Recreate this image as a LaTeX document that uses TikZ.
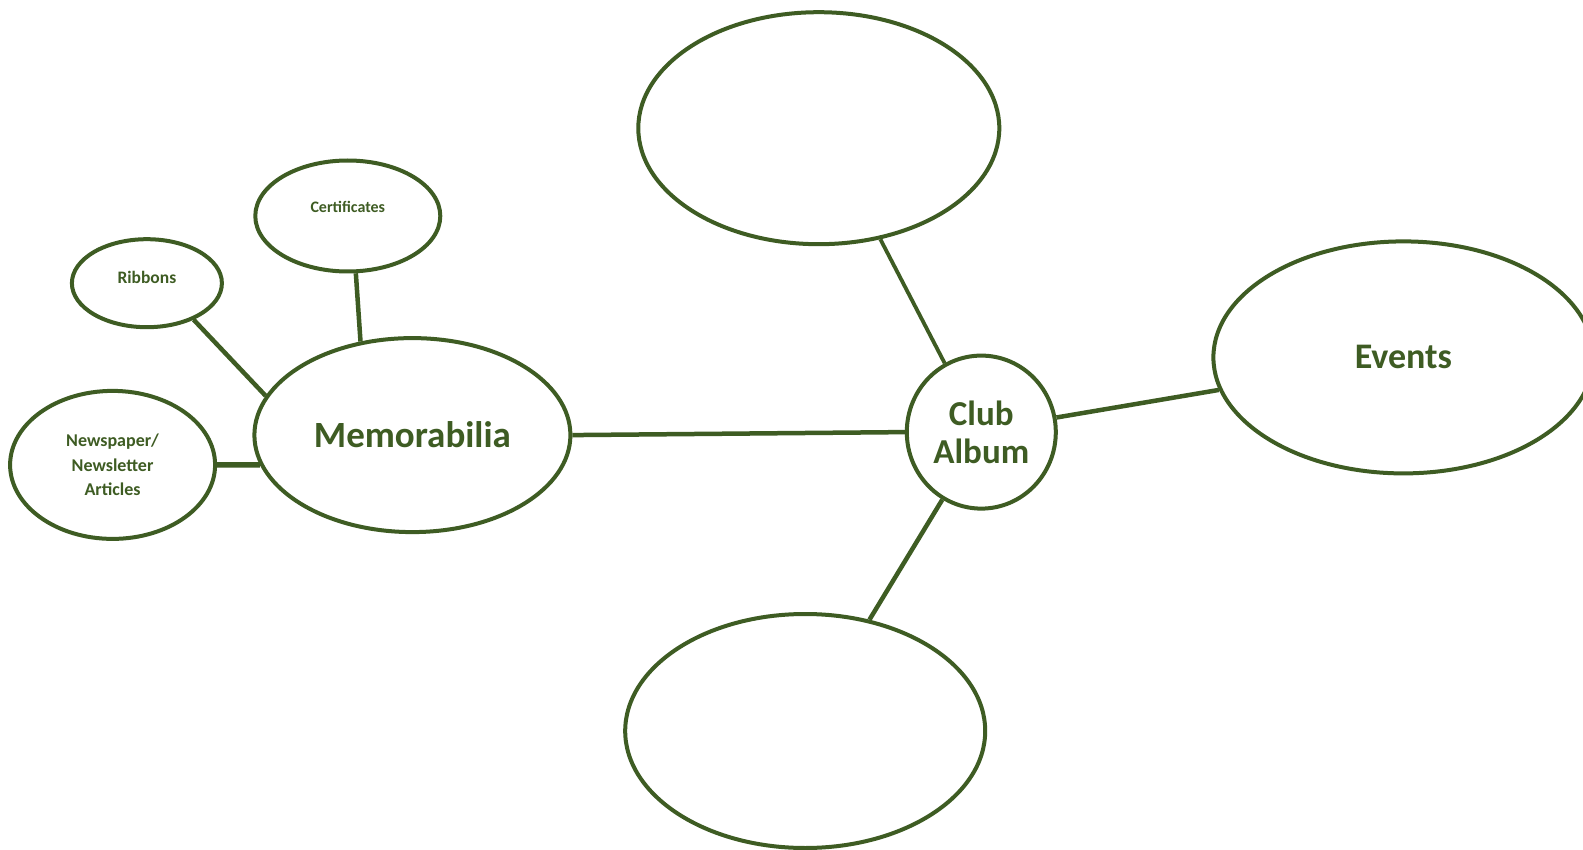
\documentclass[tikz,border=0pt]{standalone}
\usepackage{fontspec}
\setmainfont{Carlito}
\usetikzlibrary{shapes.geometric}
\definecolor{dgreen}{RGB}{62,92,35}
\begin{document}
\begin{tikzpicture}[x=1pt,y=-1pt,
  bub/.style={ellipse,draw=dgreen,line width=4pt,fill=white,inner sep=0pt,text=dgreen,font=\bfseries,align=center},
  conn/.style={draw=dgreen,line width=4.5pt}]
\path[use as bounding box,clip] (0,0) rectangle (1583,850);
\fill[white] (0,0) rectangle (1583,850);
% nodes
\node[bub,minimum width=361pt,minimum height=232pt] (top) at (818.8,128.2) {};
\node[bub,minimum width=360pt,minimum height=234pt] (bot) at (805.2,731) {};
\node[bub,minimum width=380pt,minimum height=232pt,font=\bfseries\fontsize{36}{42}\selectfont] (ev) at (1403.4,357.4) {Events};
\node[bub,minimum width=149pt,minimum height=153pt,font=\bfseries\fontsize{35}{38}\selectfont] (club) at (981.3,432.1) {Club\\Album};
\node[bub,minimum width=316pt,minimum height=194pt,font=\bfseries\fontsize{37}{44}\selectfont] (mem) at (412.4,435.1) {Memorabilia};
\node[bub,minimum width=185pt,minimum height=111pt,
  label={[text=dgreen,font=\bfseries\fontsize{16}{19}\selectfont,yshift=9pt]center:Certificates}] (cert) at (347.8,216) {};
\node[bub,minimum width=150pt,minimum height=88pt,
  label={[text=dgreen,font=\bfseries\fontsize{17.5}{20}\selectfont,yshift=6pt]center:Ribbons}] (rib) at (146.9,283.2) {};
\node[bub,minimum width=205pt,minimum height=148pt,font=\bfseries\fontsize{18}{24.5}\selectfont] (news) at (112.6,464.9) {Newspaper/\\Newsletter\\Articles};
% connectors
\draw[conn] (rib.-38.6) -- (mem.165.9);
\draw[conn] (cert.-82.4) -- (mem.119.7);
\draw[conn,line width=5.5pt] (news.0) -- (mem.191.3);
\draw[conn] (mem.0) -- (club.180.8);
\draw[conn,line width=3.8pt] (top.-61.4) -- (club.118.2);
\draw[conn] (club.11.6) -- (ev.190.3);
\draw[conn] (club.-120.1) -- (bot.60);
\end{tikzpicture}
\end{document}
